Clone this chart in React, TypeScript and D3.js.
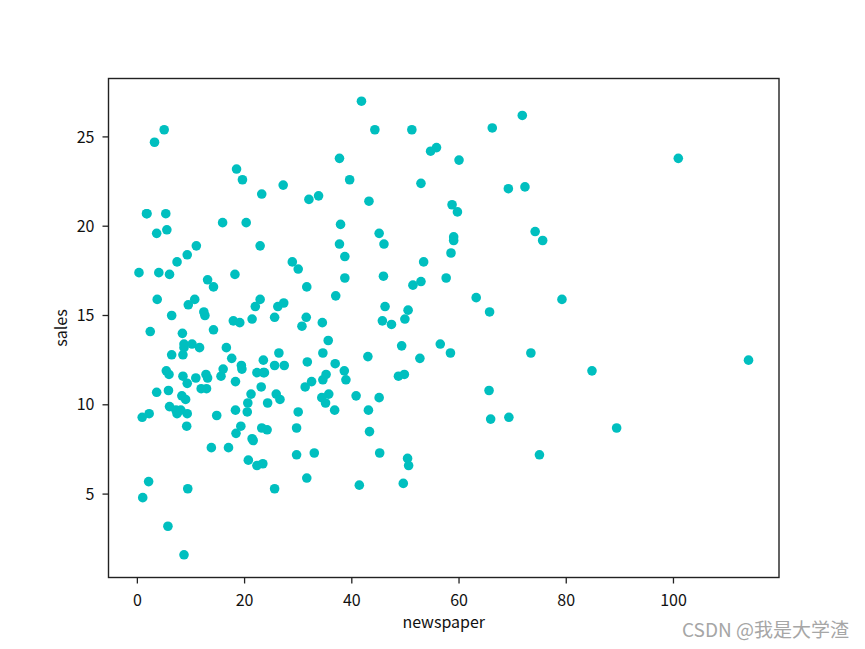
import React from "react";
import * as d3 from "d3";

const newspaper: number[] = [
  69.2, 45.1, 69.3, 58.5, 58.4, 75, 23.5, 11.6, 1, 21.2, 24.2, 4, 65.9, 7.2, 46, 52.9, 114, 55.8, 18.3, 19.1,
  53.4, 23.5, 49.6, 26.2, 18.3, 19.5, 12.6, 22.9, 22.9, 40.8, 43.2, 38.6, 30, 0.3, 7.4, 8.5, 5, 45.7, 35.1, 32,
  31.6, 38.7, 1.8, 26.4, 43.3, 31.5, 35.7, 18.5, 49.9, 36.8, 34.6, 3.6, 39.6, 58.7, 15.9, 60, 41.4, 16.6, 37.7, 9.3,
  21.4, 54.7, 27.3, 8.4, 28.9, 0.9, 2.2, 10.2, 11, 27.2, 38.7, 31.7, 19.3, 31.3, 13.1, 89.4, 20.7, 14.2, 9.4, 23.1,
  22.3, 36.9, 32.5, 35.6, 33.8, 65.7, 16, 63.2, 73.4, 51.4, 9.3, 33, 59, 72.3, 10.9, 52.9, 5.9, 22, 51.2, 45.9,
  49.8, 100.9, 21.4, 17.9, 5.3, 59, 29.7, 23.2, 25.6, 5.5, 56.5, 23.2, 2.4, 10.7, 34.5, 52.7, 25.6, 14.8, 79.2, 22.3,
  46.2, 50.4, 15.6, 12.4, 74.2, 25.9, 50.6, 9.2, 3.2, 43.1, 8.7, 43, 2.1, 45.1, 65.6, 8.5, 9.3, 59.7, 20.5, 1.7,
  12.9, 75.6, 37.9, 34.4, 38.9, 9, 8.7, 44.3, 11.9, 20.6, 37, 48.7, 14.2, 37.7, 9.5, 5.7, 50.5, 24.3, 45.2, 34.6,
  30.7, 49.3, 25.6, 7.4, 5.4, 84.8, 21.6, 19.4, 57.6, 6.4, 18.4, 47.4, 17, 12.8, 13.1, 41.8, 20.3, 35.2, 23.7, 17.6,
  8.3, 27.4, 29.7, 71.8, 30, 19.6, 26.6, 18.2, 3.7, 23.4, 5.8, 6, 31.6, 3.6, 6, 13.8, 8.1, 6.4, 66.2, 8.7,
];

const sales: number[] = [
  22.1, 10.4, 9.3, 18.5, 12.9, 7.2, 11.8, 13.2, 4.8, 10.6, 8.6, 17.4, 9.2, 9.7, 19, 22.4, 12.5, 24.4, 11.3, 14.6,
  18, 12.5, 5.6, 15.5, 9.7, 12, 15, 15.9, 18.9, 10.5, 21.4, 11.9, 9.6, 17.4, 9.5, 12.8, 25.4, 14.7, 10.1, 21.5,
  16.6, 17.1, 20.7, 12.9, 8.5, 14.9, 10.6, 23.2, 14.8, 9.7, 11.4, 10.7, 22.6, 21.2, 20.2, 23.7, 5.5, 13.2, 23.8, 18.4,
  8.1, 24.2, 15.7, 14, 18, 9.3, 9.5, 13.4, 18.9, 22.3, 18.3, 12.4, 8.8, 11, 17, 8.7, 6.9, 14.2, 5.3, 11,
  11.8, 12.3, 11.3, 13.6, 21.7, 15.2, 12, 16, 12.9, 16.7, 11.2, 7.3, 19.4, 22.2, 11.5, 16.9, 11.7, 15.5, 25.4, 17.2,
  11.7, 23.8, 14.8, 14.7, 20.7, 19.2, 7.2, 8.7, 5.3, 19.8, 13.4, 21.8, 14.1, 15.9, 14.6, 12.6, 12.2, 9.4, 15.9, 6.6,
  15.5, 7, 11.6, 15.2, 19.7, 10.6, 6.6, 8.8, 24.7, 9.7, 1.6, 12.7, 5.7, 19.6, 10.8, 11.6, 9.5, 20.8, 9.6, 20.7,
  10.9, 19.2, 20.1, 10.4, 11.4, 10.3, 13.2, 25.4, 10.9, 10.1, 16.1, 11.6, 16.6, 19, 15.6, 3.2, 15.3, 10.1, 7.3, 12.9,
  14.4, 13.3, 14.9, 18, 11.9, 11.9, 8, 12.2, 17.1, 15, 8.4, 14.5, 7.6, 11.7, 11.5, 27, 20.2, 11.7, 11.8, 12.6,
  10.5, 12.2, 8.7, 26.2, 17.6, 22.6, 10.3, 17.3, 15.9, 6.7, 10.8, 9.9, 5.9, 19.6, 17.3, 7.6, 9.7, 12.8, 25.5, 13.4,
];

const xTicks: number[] = [0, 20, 40, 60, 80, 100];
const yTicks: number[] = [5, 10, 15, 20, 25];

const W = 865;
const H = 649;
const left = 108.5;
const right = 779;
const top = 78.5;
const bottom = 577.5;
const FONT = "'Noto Sans CJK SC', 'Liberation Sans', sans-serif";

export default function App() {
  const xMin = d3.min(newspaper)!;
  const xMax = d3.max(newspaper)!;
  const yMin = d3.min(sales)!;
  const yMax = d3.max(sales)!;
  const xm = (xMax - xMin) * 0.05;
  const ym = (yMax - yMin) * 0.05;
  const x = d3.scaleLinear().domain([xMin - xm, xMax + xm]).range([left, right]);
  const y = d3.scaleLinear().domain([yMin - ym, yMax + ym]).range([bottom, top]);

  return (
    <svg
      width={W}
      height={H}
      style={{ position: "absolute", left: 0, top: 0, background: "#fff" }}
    >
      <rect x={0} y={0} width={W} height={H} fill="#fff" />
      {newspaper.map((v, i) => (
        <circle key={i} cx={x(v)} cy={y(sales[i])} r={4.8} fill="#00bfbf" />
      ))}
      <rect
        x={left}
        y={top}
        width={right - left}
        height={bottom - top}
        fill="none"
        stroke="#222"
        strokeWidth={1.4}
      />
      {xTicks.map((t) => (
        <g key={"x" + t}>
          <line x1={x(t)} x2={x(t)} y1={bottom} y2={bottom + 6} stroke="#222" strokeWidth={1.3} />
          <text
            x={x(t)}
            y={bottom + 28}
            textAnchor="middle"
            fontFamily={FONT}
            fontSize={16}
            fill="#111"
          >
            {t}
          </text>
        </g>
      ))}
      {yTicks.map((t) => (
        <g key={"y" + t}>
          <line x1={left - 6} x2={left} y1={y(t)} y2={y(t)} stroke="#222" strokeWidth={1.3} />
          <text
            x={left - 14}
            y={y(t)}
            dy="0.35em"
            textAnchor="end"
            fontFamily={FONT}
            fontSize={16}
            fill="#111"
          >
            {t}
          </text>
        </g>
      ))}
      <text
        x={(left + right) / 2}
        y={628}
        textAnchor="middle"
        fontFamily={FONT}
        fontSize={16}
        fill="#111"
      >
        newspaper
      </text>
      <text
        transform={`translate(67, ${(top + bottom) / 2}) rotate(-90)`}
        textAnchor="middle"
        fontFamily={FONT}
        fontSize={16}
        fill="#111"
      >
        sales
      </text>
      <text x={849} y={637} textAnchor="end" fontFamily={FONT} fontSize={19} fill="#a6a6a6">
        CSDN @我是大学渣
      </text>
    </svg>
  );
}
